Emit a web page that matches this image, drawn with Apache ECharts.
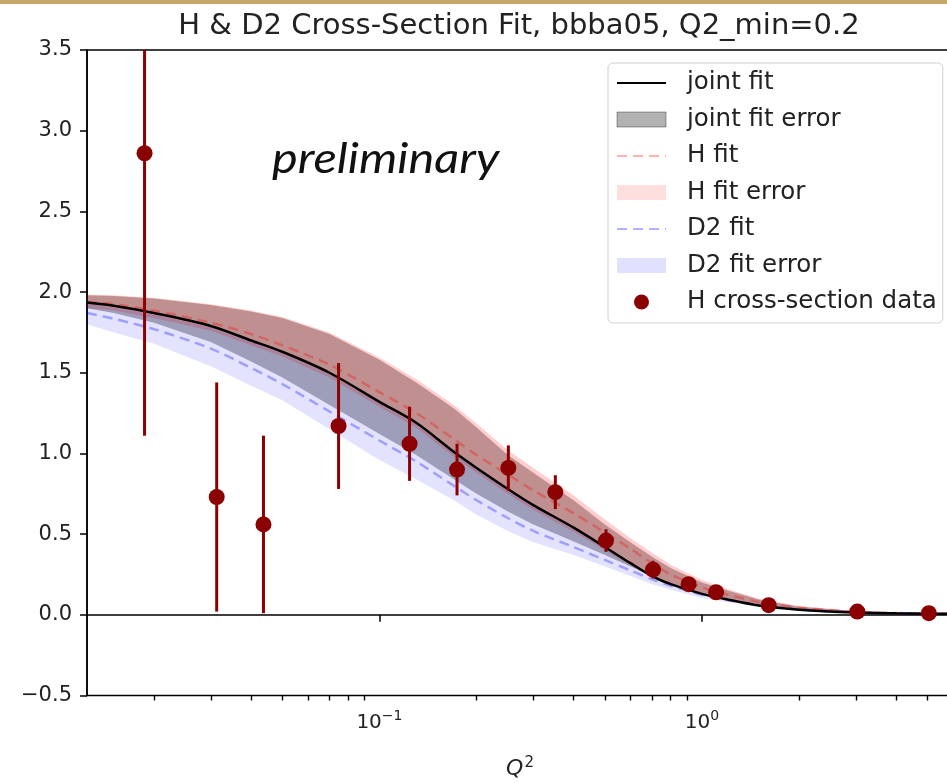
<!DOCTYPE html>
<html>
<head>
<meta charset="utf-8">
<title>H & D2 Cross-Section Fit</title>
<script src="https://cdn.jsdelivr.net/npm/echarts@6.0.0/dist/echarts.min.js"></script>
<style>
  html, body { margin: 0; padding: 0; background: #fff; }
  #chart { width: 947px; height: 783px; }
</style>
</head>
<body>
<div id="chart"></div>
<script>
// Q^2 sampling grid of the fitted curves
const q2Grid = [0.0124, 0.015, 0.02, 0.03, 0.04, 0.05, 0.07, 0.1, 0.13, 0.17, 0.2, 0.25, 0.3,
                0.4, 0.5, 0.6, 0.7, 0.8, 1.0, 1.2, 1.5, 2, 3, 4, 5, 6];

// joint fit and its uncertainty band
const jointFit  = [1.935, 1.915, 1.87, 1.79, 1.70, 1.63, 1.50, 1.32, 1.19, 1.01, 0.91, 0.78, 0.68,
                   0.54, 0.42, 0.32, 0.24, 0.19, 0.13, 0.095, 0.058, 0.032, 0.014, 0.009, 0.007, 0.006];
const jointLow  = [1.90, 1.87, 1.81, 1.69, 1.57, 1.47, 1.30, 1.12, 0.99, 0.84, 0.75, 0.64, 0.56,
                   0.455, 0.37, 0.30, 0.24, 0.195, 0.135, 0.10, 0.065, 0.036, 0.016, 0.011, 0.008, 0.006];
const jointHigh = [1.98, 1.975, 1.96, 1.92, 1.88, 1.84, 1.74, 1.58, 1.44, 1.28, 1.16, 0.99, 0.88,
                   0.71, 0.56, 0.45, 0.36, 0.29, 0.20, 0.15, 0.095, 0.05, 0.022, 0.013, 0.009, 0.007];

// hydrogen-only fit
const hFit  = [1.94, 1.925, 1.885, 1.81, 1.74, 1.67, 1.55, 1.38, 1.25, 1.09, 0.99, 0.87, 0.77,
               0.63, 0.51, 0.41, 0.32, 0.25, 0.17, 0.125, 0.08, 0.045, 0.02, 0.012, 0.009, 0.007];
const hLow  = [1.90, 1.885, 1.84, 1.76, 1.67, 1.60, 1.47, 1.29, 1.16, 0.98, 0.88, 0.75, 0.65,
               0.515, 0.40, 0.305, 0.23, 0.18, 0.125, 0.09, 0.055, 0.03, 0.013, 0.008, 0.006, 0.005];
const hHigh = [1.985, 1.98, 1.965, 1.925, 1.885, 1.845, 1.75, 1.595, 1.46, 1.30, 1.185, 1.02, 0.91,
               0.74, 0.59, 0.475, 0.385, 0.31, 0.215, 0.16, 0.10, 0.054, 0.024, 0.014, 0.01, 0.007];

// deuterium-only fit
const d2Fit  = [1.87, 1.835, 1.77, 1.65, 1.53, 1.43, 1.26, 1.08, 0.95, 0.80, 0.71, 0.60, 0.52,
                0.42, 0.34, 0.275, 0.22, 0.18, 0.125, 0.092, 0.06, 0.033, 0.015, 0.01, 0.007, 0.006];
const d2Low  = [1.80, 1.75, 1.68, 1.54, 1.42, 1.33, 1.15, 0.96, 0.84, 0.71, 0.62, 0.52, 0.45,
                0.37, 0.30, 0.24, 0.19, 0.155, 0.105, 0.078, 0.05, 0.028, 0.012, 0.008, 0.006, 0.004];
const d2High = [1.93, 1.905, 1.86, 1.78, 1.69, 1.62, 1.49, 1.31, 1.18, 1.00, 0.90, 0.77, 0.67,
                0.53, 0.41, 0.315, 0.24, 0.19, 0.13, 0.095, 0.06, 0.034, 0.015, 0.01, 0.007, 0.006];

// measured H cross-section points
const dataQ2    = [0.0187, 0.0313, 0.0437, 0.0747, 0.124, 0.174, 0.251, 0.351, 0.504, 0.705,
                   0.909, 1.106, 1.61, 3.03, 5.05];
const dataSigma = [2.86, 0.73, 0.56, 1.17, 1.06, 0.90, 0.91, 0.76, 0.46, 0.28,
                   0.19, 0.14, 0.06, 0.02, 0.01];
const dataErr   = [1.75, 0.71, 0.55, 0.39, 0.23, 0.16, 0.14, 0.105, 0.07, 0.055,
                   0.035, 0.025, 0.015, 0.008, 0.005];

// axis ticks
const majorTicks = [0.1, 1];
const minorTicks = [0.02, 0.03, 0.04, 0.05, 0.06, 0.07, 0.08, 0.09,
                    0.2, 0.3, 0.4, 0.5, 0.6, 0.7, 0.8, 0.9, 2, 3, 4, 5, 6];

const FONT = 'DejaVu Sans';
const JOINT_FILL = 'rgba(0,0,0,0.3)';
const H_FILL = 'rgba(255,0,0,0.19)';
const D2_FILL = 'rgba(0,0,255,0.11)';

function curve(ys) { return q2Grid.map((q, i) => [q, ys[i]]); }

// shaded band between two curves, drawn as one polygon through the axis scales
function band(name, lo, hi, fill) {
  return {
    name: name, type: 'custom', silent: true, z: 1,
    itemStyle: { color: fill },
    data: q2Grid.map((q, i) => [q, lo[i], hi[i]]),
    encode: { x: 0, y: [1, 2] },
    renderItem: function (params, api) {
      if (params.dataIndex !== 0) return null;
      const n = q2Grid.length;
      const upper = [], lower = [];
      for (let i = 0; i < n; i++) {
        upper.push(api.coord([api.value(0, i), api.value(2, i)]));
        lower.push(api.coord([api.value(0, i), api.value(1, i)]));
      }
      const cs = params.coordSys;
      return {
        type: 'polygon',
        shape: { points: upper.concat(lower.reverse()) },
        style: { fill: fill },
        clipPath: { type: 'rect', shape: { x: cs.x, y: cs.y, width: cs.width, height: cs.height } }
      };
    }
  };
}

const chart = echarts.init(document.getElementById('chart'), null, { renderer: 'canvas' });

const option = {
  animation: false,
  backgroundColor: '#fff',
  grid: {
    left: 87, top: 50, width: 866, bottom: 87.5,
    outerBoundsMode: 'none', containLabel: false,
    show: true, borderColor: '#000', borderWidth: 1.5, backgroundColor: 'transparent'
  },
  graphic: [
    { type: 'rect', left: 0, top: 0, shape: { width: 947, height: 4 }, style: { fill: '#c4a86a' }, silent: true },
    { type: 'text', x: 519, y: 12, style: {
        text: 'H & D2 Cross-Section Fit, bbba05, Q2_min=0.2',
        font: '29px "DejaVu Sans"', fill: '#222', textAlign: 'center' }, silent: true },
    { type: 'text', x: 272, y: 138, scaleX: 1.16, style: {
        text: 'preliminary', font: 'italic 42px Lato', fill: '#111' }, silent: true, z: 10 }
  ],
  legend: {
    orient: 'vertical', left: 608, top: 63,
    padding: [7, 6, 8, 8], itemGap: 10.5,
    itemWidth: 49, itemHeight: 15,
    borderColor: '#d0d0d0', borderWidth: 1, borderRadius: 5,
    backgroundColor: 'rgba(255,255,255,0.85)',
    selectedMode: false,
    textStyle: { fontFamily: FONT, fontSize: 24.5, color: '#222', lineHeight: 26, padding: [0, 0, 0, 16] },
    data: [
      { name: 'joint fit', itemStyle: { opacity: 0 } },
      { name: 'joint fit error', icon: 'rect',
        itemStyle: { color: 'rgba(0,0,0,0.3)', borderColor: 'rgba(0,0,0,0.35)', borderWidth: 1 } },
      { name: 'H fit', itemStyle: { opacity: 0 } },
      { name: 'H fit error', icon: 'rect', itemStyle: { color: 'rgba(255,0,0,0.13)' } },
      { name: 'D2 fit', itemStyle: { opacity: 0 } },
      { name: 'D2 fit error', icon: 'rect', itemStyle: { color: 'rgba(0,0,255,0.12)' } },
      { name: 'H cross-section data', icon: 'circle', itemStyle: { color: '#8b0000', opacity: 1 } }
    ]
  },
  xAxis: [
    {
      type: 'log', logBase: 10, min: 0.0124, max: 6.0,
      name: '{q|Q}{s|2}', nameLocation: 'middle', nameGap: 60,
      nameTextStyle: {
        rich: {
          q: { fontFamily: FONT, fontStyle: 'italic', fontSize: 22, color: '#222' },
          s: { fontFamily: FONT, fontSize: 15, color: '#222', padding: [0, 0, 12, 1] }
        }
      },
      axisLine: { lineStyle: { color: '#000', width: 1.5 } },
      axisTick: { customValues: majorTicks, length: 7, lineStyle: { color: '#000', width: 1.5 } },
      axisLabel: {
        customValues: majorTicks, margin: 14,
        formatter: v => '{b|10}{s|' + String(Math.round(Math.log10(v))).replace('-', '\u2212') + '}',
        rich: {
          b: { fontFamily: FONT, fontSize: 20, color: '#222' },
          s: { fontFamily: FONT, fontSize: 14, color: '#222', padding: [0, 0, 12, 0] }
        }
      },
      splitLine: { show: false }
    },
    {
      type: 'log', logBase: 10, min: 0.0124, max: 6.0, position: 'bottom', show: true,
      axisLine: { show: false },
      axisTick: { show: true, customValues: minorTicks, length: 5, lineStyle: { color: '#000', width: 1.4 } },
      axisLabel: { show: false },
      splitLine: { show: false }
    }
  ],
  yAxis: {
    type: 'value', min: -0.5, max: 3.5, interval: 0.5,
    axisLine: { show: true, lineStyle: { color: '#000', width: 1.5 } },
    axisTick: { show: true, length: 7, lineStyle: { color: '#000', width: 1.5 } },
    axisLabel: {
      margin: 15, fontFamily: FONT, fontSize: 21, color: '#222',
      formatter: v => v.toFixed(1).replace('-', '\u2212')
    },
    splitLine: { show: false }
  },
  series: [
    band('joint fit error', jointLow, jointHigh, JOINT_FILL),
    band('H fit error', hLow, hHigh, H_FILL),
    band('D2 fit error', d2Low, d2High, D2_FILL),
    {
      name: 'H fit', type: 'line', data: curve(hFit), symbol: 'none', smooth: 0.3,
      itemStyle: { color: 'rgba(255,0,0,0.3)' },
      lineStyle: { color: 'rgba(255,0,0,0.3)', width: 2.5, type: [10, 6] }, z: 3
    },
    {
      name: 'D2 fit', type: 'line', data: curve(d2Fit), symbol: 'none', smooth: 0.3,
      itemStyle: { color: 'rgba(0,0,255,0.3)' },
      lineStyle: { color: 'rgba(0,0,255,0.3)', width: 2.5, type: [10, 6] }, z: 3
    },
    {
      name: 'joint fit', type: 'line', data: curve(jointFit), symbol: 'none', smooth: 0.3,
      itemStyle: { color: '#000' },
      lineStyle: { color: '#000', width: 2.5 }, z: 4
    },
    {
      name: 'H cross-section error', type: 'custom',
      data: dataQ2.map((q, i) => [q, dataSigma[i], dataErr[i]]),
      encode: { x: 0, y: 1 },
      renderItem: function (params, api) {
        const x = api.value(0), y = api.value(1), e = api.value(2);
        const hi = api.coord([x, y + e]);
        const lo = api.coord([x, y - e]);
        const top = Math.max(hi[1], params.coordSys.y);
        return {
          type: 'line',
          shape: { x1: hi[0], y1: top, x2: lo[0], y2: lo[1] },
          style: { stroke: '#8b0000', lineWidth: 3 }
        };
      },
      z: 5, silent: true
    },
    {
      name: 'H cross-section data', type: 'scatter',
      data: dataQ2.map((q, i) => [q, dataSigma[i]]),
      symbol: 'circle', symbolSize: 16,
      itemStyle: { color: '#8b0000', opacity: 1 }, z: 6
    }
  ]
};

chart.setOption(option);
</script>
</body>
</html>
